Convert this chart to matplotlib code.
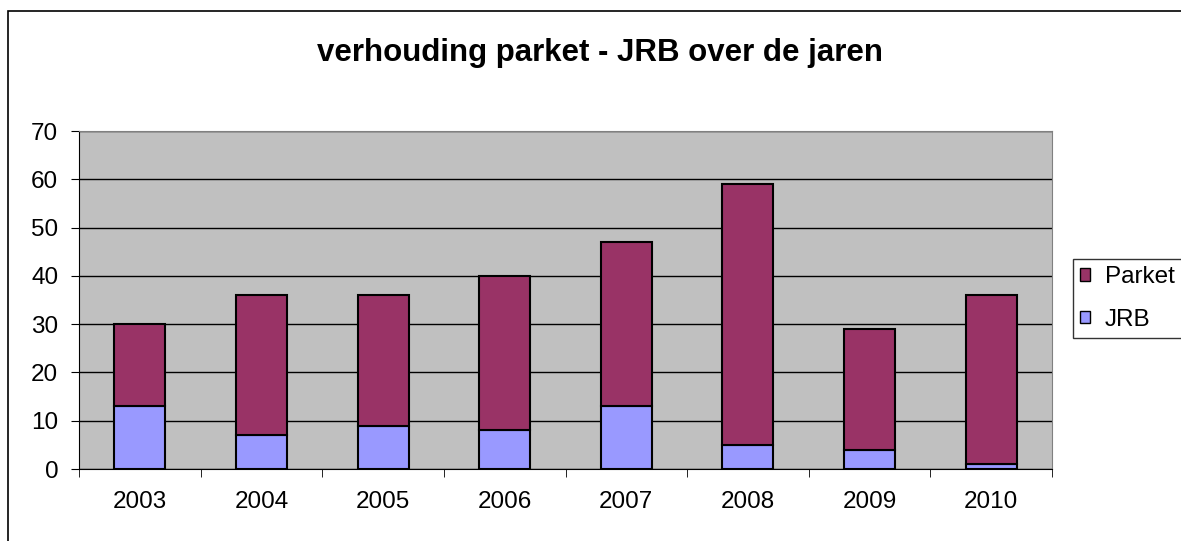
import numpy as np
import matplotlib.pyplot as plt
from matplotlib.patches import Rectangle, Patch

plt.rcParams['font.family'] = ['Liberation Sans', 'DejaVu Sans']

years = ['2003', '2004', '2005', '2006', '2007', '2008', '2009', '2010']
jrb = [13, 7, 9, 8, 13, 5, 4, 1]
parket = [17, 29, 27, 32, 34, 54, 25, 35]

W, H = 1181, 541
fig = plt.figure(figsize=(W / 100, H / 100), dpi=100)
fig.patch.set_facecolor('white')

# outer chart border
fig.patches.append(Rectangle((8 / W, -0.1), 1.2, 1.1 - 11 / H, transform=fig.transFigure,
                             fill=False, edgecolor='black', lw=1.2, zorder=0))

ax = fig.add_axes([79 / W, 1 - 469 / H, (1052 - 79) / W, (469 - 131) / H])
ax.set_facecolor('#C0C0C0')

x = np.arange(len(years))
ax.bar(x, jrb, width=0.42, color='#9999FF', edgecolor='black', lw=1.5, zorder=3)
ax.bar(x, parket, width=0.42, bottom=jrb, color='#993366', edgecolor='black', lw=1.5, zorder=3)

ax.set_xlim(-0.5, len(years) - 0.5)
ax.set_ylim(0, 70)
ax.set_yticks(range(0, 71, 10))
ax.yaxis.grid(True, color='black', lw=1, zorder=1)
ax.set_axisbelow(True)

ax.set_xticks(x)
ax.set_xticklabels(years, fontsize=17.5)
ax.tick_params(axis='x', length=0, pad=16)
ax.set_xticks(np.arange(-0.5, len(years), 1), minor=True)
ax.tick_params(axis='x', which='minor', length=6, color='black', direction='out')
ax.tick_params(axis='y', labelsize=17.5, length=6, direction='out', pad=9)

for s in ['top', 'right']:
    ax.spines[s].set_color('#808080')
ax.spines['left'].set_color('black')
ax.spines['bottom'].set_color('black')

fig.text(600 / W, 1 - 53 / H, 'verhouding parket - JRB over de jaren', ha='center', va='center',
         fontsize=22.5, fontweight='bold')

handles = [Patch(facecolor='#993366', edgecolor='black', label='Parket'),
           Patch(facecolor='#9999FF', edgecolor='black', label='JRB')]
fig.legend(handles=handles, loc='upper left', bbox_to_anchor=(1073 / W, 1 - 259 / H),
           fontsize=17.5, frameon=True, fancybox=False, edgecolor='black',
           handlelength=0.4, handleheight=0.4, handletextpad=0.6, borderpad=0.3,
           labelspacing=0.85, borderaxespad=0)

fig.savefig('out.png', dpi=100)
